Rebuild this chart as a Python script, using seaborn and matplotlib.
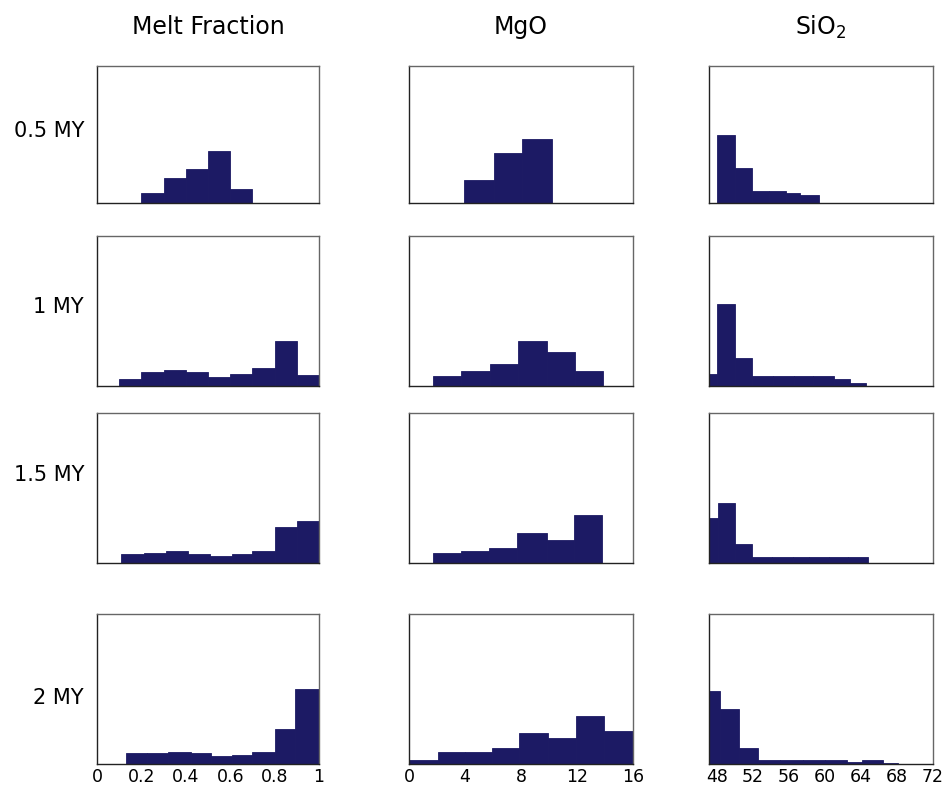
import matplotlib
matplotlib.use("Agg")
import matplotlib.pyplot as plt
import seaborn as sns

sns.set_style("white")
plt.rcParams['font.family'] = ['DejaVu Sans']
plt.rcParams['text.color'] = 'black'
plt.rcParams['xtick.color'] = 'black'

BAR = '#1c1a64'
W, H = 944, 787

col_titles = ['Melt Fraction', 'MgO', r'SiO$_2$']
row_labels = ['0.5 MY', '1 MY', '1.5 MY', '2 MY']

# bin edges and bar heights (relative, share of panel height)
melt_05_edges = [0.2, 0.3, 0.4, 0.5, 0.6, 0.7]
melt_05_h = [0.076, 0.185, 0.251, 0.377, 0.100]
melt_1_edges = [0.1, 0.2, 0.3, 0.4, 0.5, 0.6, 0.7, 0.8, 0.9, 1.0]
melt_1_h = [0.050, 0.094, 0.105, 0.092, 0.060, 0.083, 0.121, 0.300, 0.072]
melt_15_edges = [0.11, 0.21, 0.31, 0.41, 0.51, 0.61, 0.70, 0.80, 0.90, 1.0]
melt_15_h = [0.057, 0.068, 0.081, 0.057, 0.045, 0.057, 0.081, 0.239, 0.277]
melt_2_edges = [0.13, 0.225, 0.32, 0.425, 0.515, 0.61, 0.70, 0.80, 0.89, 1.0]
melt_2_h = [0.071, 0.071, 0.083, 0.074, 0.051, 0.061, 0.083, 0.236, 0.499]

mgo_05_edges = [3.93, 6.1, 8.05, 10.19]
mgo_05_h = [0.165, 0.366, 0.469]
mgo_1_edges = [1.7, 3.68, 5.75, 7.75, 9.86, 11.87, 13.83]
mgo_1_h = [0.069, 0.103, 0.149, 0.298, 0.227, 0.103]
mgo_15_edges = [1.7, 3.68, 5.73, 7.73, 9.86, 11.79, 13.81]
mgo_15_h = [0.066, 0.080, 0.100, 0.202, 0.156, 0.317]
mgo_2_edges = [0, 2.05, 4.0, 5.96, 7.89, 9.92, 11.92, 13.95, 16]
mgo_2_h = [0.024, 0.082, 0.082, 0.107, 0.208, 0.174, 0.321, 0.218]

sio2_05_edges = [48.0, 50.0, 51.9, 53.8, 55.7, 57.2, 59.3]
sio2_05_h = [0.500, 0.258, 0.086, 0.086, 0.072, 0.060]
sio2_1_edges = [47.1, 48.0, 50.0, 51.9, 54.2, 56.5, 58.7, 61.0, 62.8, 64.6]
sio2_1_h = [0.077, 0.546, 0.190, 0.065, 0.065, 0.065, 0.065, 0.044, 0.020]
sio2_15_edges = [47.1, 48.1, 50.0, 51.9, 54.1, 56.4, 58.2, 60.4, 62.6, 64.8]
sio2_15_h = [0.300, 0.400, 0.125, 0.037, 0.037, 0.037, 0.037, 0.037, 0.037]
sio2_2_edges = [47.1, 48.3, 50.4, 52.5, 55.0, 57.5, 60.0, 62.4, 64.1, 66.4, 68.1]
sio2_2_h = [0.490, 0.367, 0.107, 0.027, 0.027, 0.027, 0.027, 0.015, 0.027, 0.008]

panels = [
    [(melt_05_edges, melt_05_h), (mgo_05_edges, mgo_05_h), (sio2_05_edges, sio2_05_h)],
    [(melt_1_edges, melt_1_h), (mgo_1_edges, mgo_1_h), (sio2_1_edges, sio2_1_h)],
    [(melt_15_edges, melt_15_h), (mgo_15_edges, mgo_15_h), (sio2_15_edges, sio2_15_h)],
    [(melt_2_edges, melt_2_h), (mgo_2_edges, mgo_2_h), (sio2_2_edges, sio2_2_h)],
]

xlims = [(0, 1), (0, 16), (47.1, 72)]
xticks = [[0, 0.2, 0.4, 0.6, 0.8, 1], [0, 4, 8, 12, 16], [48, 52, 56, 60, 64, 68, 72]]
xticklabels = [['0', '0.2', '0.4', '0.6', '0.8', '1'],
               ['0', '4', '8', '12', '16'],
               ['48', '52', '56', '60', '64', '68', '72']]

# pixel layout of the panels
col_x = [(97, 319), (409, 633), (709, 933)]
row_y = [(66, 203), (236, 386), (413, 563), (614, 764)]

fig = plt.figure(figsize=(W / 100, H / 100), dpi=100)

for r in range(4):
    for c in range(3):
        edges, h = panels[r][c]
        x0, x1 = col_x[c]
        y0, y1 = row_y[r]
        ax = fig.add_axes([x0 / W, 1 - y1 / H, (x1 - x0) / W, (y1 - y0) / H])
        centers = [(a + b) / 2 for a, b in zip(edges[:-1], edges[1:])]
        sns.histplot(x=centers, weights=h, bins=edges, ax=ax, color=BAR,
                     alpha=1, edgecolor=BAR, linewidth=0.6)
        ax.set_xlim(*xlims[c])
        ax.set_ylim(0, 1)
        ax.set_xlabel('')
        ax.set_ylabel('')
        ax.set_yticks([])
        if r == 3:
            ax.set_xticks(xticks[c])
            ax.set_xticklabels(xticklabels[c], fontsize=12.5)
            ax.tick_params(axis='x', length=0, pad=3)
        else:
            ax.set_xticks([])
        for side, sp in ax.spines.items():
            sp.set_visible(True)
            sp.set_linewidth(1)
            sp.set_color('#222222' if side in ('left', 'bottom') else '#666666')

# column titles
for c, t in enumerate(col_titles):
    cx = (col_x[c][0] + col_x[c][1]) / 2
    fig.text(cx / W, 1 - 27 / H, t, ha='center', va='center', fontsize=17)

# row labels
row_label_y = [131, 307, 475, 698]
for lab, y in zip(row_labels, row_label_y):
    fig.text(84 / W, 1 - y / H, lab, ha='right', va='center', fontsize=15)

fig.savefig('out.png', dpi=100)
